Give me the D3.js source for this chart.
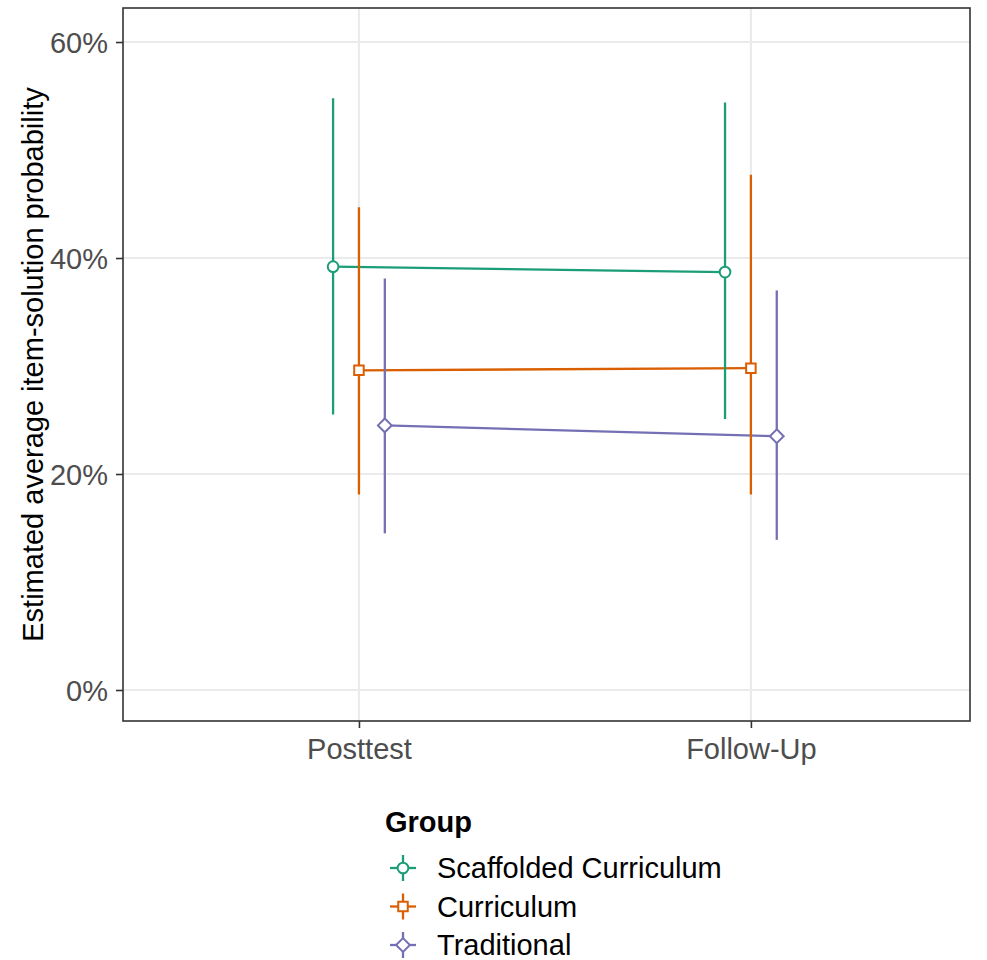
<!DOCTYPE html>
<html>
<head>
<meta charset="utf-8">
<script src="https://cdn.jsdelivr.net/npm/d3@7"></script>
<style>
  body { margin: 0; background: #fff; }
  text { font-family: "Liberation Sans", Arial, sans-serif; }
</style>
</head>
<body>
<script>
// data
var times = ["Posttest", "Follow-Up"];
var groups = ["Scaffolded Curriculum", "Curriculum", "Traditional"];
var estimates = [[0.392, 0.387], [0.296, 0.298], [0.245, 0.235]];
var lowers    = [[0.255, 0.251], [0.181, 0.181], [0.145, 0.139]];
var uppers    = [[0.548, 0.544], [0.447, 0.477], [0.381, 0.370]];
var yTicks = [0, 0.2, 0.4, 0.6];

var colors = ["#1B9E77", "#D95F02", "#7570B3"];

// ggplot-style open diamond: a square turned 45 degrees
var squareDiamond = {
  draw: function(context, size) {
    var r = Math.sqrt(size / 2);
    context.moveTo(0, -r);
    context.lineTo(r, 0);
    context.lineTo(0, r);
    context.lineTo(-r, 0);
    context.closePath();
  }
};
var shapes = [d3.symbolCircle, d3.symbolSquare, squareDiamond];
var shapeSize = [90, 90, 95];

var W = 987, H = 960;
var panel = { left: 123, right: 970, top: 8, bottom: 721 };
var fs = "29px";

var svg = d3.select("body").append("svg")
    .attr("width", W)
    .attr("height", H);

var x = d3.scaleLinear()
    .domain([-0.602, 1.559])
    .range([panel.left, panel.right]);

var y = d3.scaleLinear()
    .domain([-0.0287, 0.6315])
    .range([panel.bottom, panel.top]);

var dodge = 0.066;

// grid
var grid = svg.append("g");
grid.selectAll(".hg").data(yTicks).enter().append("line")
    .attr("x1", panel.left).attr("x2", panel.right)
    .attr("y1", function(d) { return y(d); })
    .attr("y2", function(d) { return y(d); })
    .attr("stroke", "#EBEBEB").attr("stroke-width", 2.2);
grid.selectAll(".vg").data(times).enter().append("line")
    .attr("y1", panel.top).attr("y2", panel.bottom)
    .attr("x1", function(d, i) { return x(i); })
    .attr("x2", function(d, i) { return x(i); })
    .attr("stroke", "#EBEBEB").attr("stroke-width", 2.2);

// series
var rows = [];
groups.forEach(function(g, gi) {
  times.forEach(function(t, ti) {
    rows.push({ g: gi, t: ti, est: estimates[gi][ti], lo: lowers[gi][ti], hi: uppers[gi][ti],
      xp: ti + (gi - 1) * dodge });
  });
});

var line = d3.line()
    .x(function(d) { return x(d.xp); })
    .y(function(d) { return y(d.est); });

groups.forEach(function(g, gi) {
  var sub = rows.filter(function(r) { return r.g === gi; });
  svg.append("path")
      .datum(sub)
      .attr("d", line)
      .attr("fill", "none")
      .attr("stroke", colors[gi])
      .attr("stroke-width", 2.3);
});

svg.selectAll(".err").data(rows).enter().append("line")
    .attr("x1", function(d) { return x(d.xp); })
    .attr("x2", function(d) { return x(d.xp); })
    .attr("y1", function(d) { return y(d.lo); })
    .attr("y2", function(d) { return y(d.hi); })
    .attr("stroke", function(d) { return colors[d.g]; })
    .attr("stroke-width", 2.3);

svg.selectAll(".pt").data(rows).enter().append("path")
    .attr("transform", function(d) { return "translate(" + x(d.xp) + "," + y(d.est) + ")"; })
    .attr("d", function(d) { return d3.symbol().type(shapes[d.g]).size(shapeSize[d.g])(); })
    .attr("fill", "#fff")
    .attr("stroke", function(d) { return colors[d.g]; })
    .attr("stroke-width", 2);

// panel border
svg.append("rect")
    .attr("x", panel.left).attr("y", panel.top)
    .attr("width", panel.right - panel.left)
    .attr("height", panel.bottom - panel.top)
    .attr("fill", "none")
    .attr("stroke", "#333333")
    .attr("stroke-width", 1.6);

// axes
var yAxis = d3.axisLeft(y)
    .tickValues(yTicks)
    .tickFormat(d3.format(".0%"))
    .tickSize(7)
    .tickPadding(8);

var gy = svg.append("g")
    .attr("transform", "translate(" + panel.left + ",0)")
    .call(yAxis);
gy.select(".domain").remove();
gy.selectAll(".tick line").attr("stroke", "#333333").attr("stroke-width", 1.6);
gy.selectAll(".tick text").attr("fill", "#4D4D4D").style("font-size", fs)
    .attr("dy", "0.35em");

var xAxis = d3.axisBottom(x)
    .tickValues([0, 1])
    .tickFormat(function(d) { return times[d]; })
    .tickSize(7)
    .tickPadding(10);

var gx = svg.append("g")
    .attr("transform", "translate(0," + panel.bottom + ")")
    .call(xAxis);
gx.select(".domain").remove();
gx.selectAll(".tick line").attr("stroke", "#333333").attr("stroke-width", 1.6);
gx.selectAll(".tick text").attr("fill", "#4D4D4D").style("font-size", fs);

svg.append("text")
    .attr("transform", "translate(43," + ((panel.top + panel.bottom) / 2) + ") rotate(-90)")
    .attr("text-anchor", "middle")
    .style("font-size", fs)
    .attr("fill", "#000")
    .text("Estimated average item-solution probability");

// legend
var legend = svg.append("g").attr("transform", "translate(385,0)");
legend.append("text")
    .attr("x", 0).attr("y", 832)
    .style("font-size", fs)
    .style("font-weight", "bold")
    .text("Group");

var items = legend.selectAll(".item").data(groups).enter().append("g")
    .attr("transform", function(d, i) { return "translate(0," + (868 + i * 38.5) + ")"; });

items.append("line")
    .attr("x1", 5).attr("x2", 31).attr("y1", 0).attr("y2", 0)
    .attr("stroke", function(d, i) { return colors[i]; })
    .attr("stroke-width", 2.3);
items.append("line")
    .attr("x1", 18).attr("x2", 18).attr("y1", -13).attr("y2", 13)
    .attr("stroke", function(d, i) { return colors[i]; })
    .attr("stroke-width", 2.3);
items.append("path")
    .attr("transform", "translate(18,0)")
    .attr("d", function(d, i) { return d3.symbol().type(shapes[i]).size(shapeSize[i])(); })
    .attr("fill", "#fff")
    .attr("stroke", function(d, i) { return colors[i]; })
    .attr("stroke-width", 2);
items.append("text")
    .attr("x", 52).attr("y", 0).attr("dy", "0.35em")
    .style("font-size", fs)
    .attr("fill", "#000")
    .text(function(d) { return d; });
</script>
</body>
</html>
